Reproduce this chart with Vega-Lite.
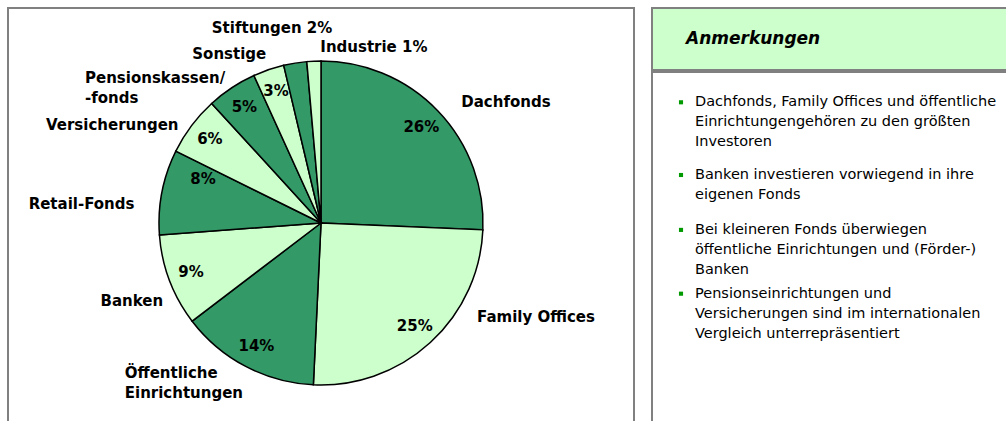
{
  "$schema": "https://vega.github.io/schema/vega-lite/v6.json",
  "padding": {"left": 7, "top": 7, "right": 0, "bottom": 0},
  "background": "white",
  "spacing": 18,
  "bounds": "flush",
  "config": {
    "view": {"stroke": "#808080", "strokeWidth": 2},
    "text": {"font": "DejaVu Sans", "fontWeight": "bold", "fontSize": 15, "color": "#000000", "baseline": "middle", "lineBreak": "\n", "lineHeight": 20, "clip": true}
  },
  "hconcat": [
    {
      "width": 626,
      "height": 430,
      "view": {"stroke": "#808080", "strokeWidth": 2, "fill": "white"},
      "data": {"values": [
        {"rank": 1, "cat": "Dachfonds", "name": "Dachfonds", "pct": "26%", "value": 25.7},
        {"rank": 2, "cat": "Family Offices", "name": "Family Offices", "pct": "25%", "value": 25.1},
        {"rank": 3, "cat": "Öffentliche Einrichtungen", "name": "Öffentliche\nEinrichtungen", "pct": "14%", "value": 13.9},
        {"rank": 4, "cat": "Banken", "name": "Banken", "pct": "9%", "value": 9.2},
        {"rank": 5, "cat": "Retail-Fonds", "name": "Retail-Fonds", "pct": "8%", "value": 8.5},
        {"rank": 6, "cat": "Versicherungen", "name": "Versicherungen", "pct": "6%", "value": 5.9},
        {"rank": 7, "cat": "Pensionskassen/-fonds", "name": "Pensionskassen/\n-fonds", "pct": "5%", "value": 5.0},
        {"rank": 8, "cat": "Sonstige", "name": "Sonstige", "pct": "3%", "value": 3.1},
        {"rank": 9, "cat": "Stiftungen", "name": "Stiftungen 2%", "pct": "", "value": 2.3},
        {"rank": 10, "cat": "Industrie", "name": "Industrie 1%", "pct": "", "value": 1.4}
      ]},
      "encoding": {
        "theta": {"field": "value", "type": "quantitative", "stack": true},
        "order": {"field": "rank", "type": "quantitative"}
      },
      "layer": [
        {
          "mark": {"type": "arc", "outerRadius": 162, "stroke": "#000000", "strokeWidth": 1.5},
          "encoding": {
            "color": {
              "field": "cat", "type": "nominal", "legend": null,
              "scale": {
                "domain": ["Dachfonds", "Family Offices", "Öffentliche Einrichtungen", "Banken", "Retail-Fonds", "Versicherungen", "Pensionskassen/-fonds", "Sonstige", "Stiftungen", "Industrie"],
                "range": ["#339966", "#CCFFCC", "#339966", "#CCFFCC", "#339966", "#CCFFCC", "#339966", "#CCFFCC", "#339966", "#CCFFCC"]
              }
            }
          }
        },
        {
          "mark": {"type": "text", "radius": 139, "align": "center", "clip": true},
          "encoding": {"text": {"condition": {"test": "datum.cat !== 'Retail-Fonds'", "field": "pct", "type": "nominal"}, "value": ""}}
        },
        {
          "mark": {"type": "text", "radius": 126, "thetaOffset": 0.164, "align": "center", "clip": true},
          "encoding": {"text": {"condition": {"test": "datum.cat === 'Retail-Fonds'", "field": "pct", "type": "nominal"}, "value": ""}}
        },
        {
          "mark": {"type": "text", "radius": 185, "thetaOffset": 0.054, "align": "left", "clip": true},
          "encoding": {"text": {"condition": {"test": "datum.cat === 'Dachfonds'", "field": "name", "type": "nominal"}, "value": ""}}
        },
        {
          "mark": {"type": "text", "radius": 182, "thetaOffset": -0.29, "align": "left", "clip": true},
          "encoding": {"text": {"condition": {"test": "datum.cat === 'Family Offices'", "field": "name", "type": "nominal"}, "value": ""}}
        },
        {
          "mark": {"type": "text", "radius": 247, "thetaOffset": 0.435, "align": "left", "clip": true},
          "encoding": {"text": {"condition": {"test": "datum.cat === 'Öffentliche Einrichtungen'", "field": "name", "type": "nominal"}, "value": ""}}
        },
        {
          "mark": {"type": "text", "radius": 176, "thetaOffset": -0.096, "align": "right", "clip": true},
          "encoding": {"text": {"condition": {"test": "datum.cat === 'Banken'", "field": "name", "type": "nominal"}, "value": ""}}
        },
        {
          "mark": {"type": "text", "radius": 187.5, "thetaOffset": -0.091, "align": "right", "clip": true},
          "encoding": {"text": {"condition": {"test": "datum.cat === 'Retail-Fonds'", "field": "name", "type": "nominal"}, "value": ""}}
        },
        {
          "mark": {"type": "text", "radius": 173, "thetaOffset": -0.042, "align": "right", "clip": true},
          "encoding": {"text": {"condition": {"test": "datum.cat === 'Versicherungen'", "field": "name", "type": "nominal"}, "value": ""}}
        },
        {
          "mark": {"type": "text", "radius": 277, "thetaOffset": -0.436, "align": "left", "clip": true},
          "encoding": {"text": {"condition": {"test": "datum.cat === 'Pensionskassen/-fonds'", "field": "name", "type": "nominal"}, "value": ""}}
        },
        {
          "mark": {"type": "text", "radius": 178, "thetaOffset": 0.017, "align": "right", "clip": true},
          "encoding": {"text": {"condition": {"test": "datum.cat === 'Sonstige'", "field": "name", "type": "nominal"}, "value": ""}}
        },
        {
          "mark": {"type": "text", "radius": 201, "thetaOffset": -0.086, "align": "center", "clip": true},
          "encoding": {"text": {"condition": {"test": "datum.cat === 'Stiftungen'", "field": "name", "type": "nominal"}, "value": ""}}
        },
        {
          "mark": {"type": "text", "radius": 176, "thetaOffset": 0.04, "align": "left", "clip": true},
          "encoding": {"text": {"condition": {"test": "datum.cat === 'Industrie'", "field": "name", "type": "nominal"}, "value": ""}}
        }
      ]
    },
    {
      "spacing": 0,
      "vconcat": [
        {
          "width": 370,
          "height": 62,
          "view": {"fill": "#CCFFCC", "stroke": "#808080", "strokeWidth": 2},
          "data": {"values": [{"t": "Anmerkungen"}]},
          "mark": {"type": "text", "align": "left", "baseline": "middle", "font": "DejaVu Sans", "fontWeight": "bold", "fontStyle": "italic", "fontSize": 17, "color": "#000000"},
          "encoding": {
            "text": {"field": "t", "type": "nominal"},
            "x": {"datum": 0.0919, "type": "quantitative", "scale": {"domain": [0, 1], "nice": false, "zero": false}, "axis": null}
          }
        },
        {
          "width": 370,
          "height": 368,
          "view": {"fill": "white", "stroke": "#808080", "strokeWidth": 2},
          "data": {"values": [
            {"item": 1, "text": "Dachfonds, Family Offices und öffentliche\nEinrichtungengehören zu den größten\nInvestoren"},
            {"item": 2, "text": "Banken investieren vorwiegend in ihre\neigenen Fonds"},
            {"item": 3, "text": "Bei kleineren Fonds überwiegen\nöffentliche Einrichtungen und (Förder-)\nBanken"},
            {"item": 4, "text": "Pensionseinrichtungen und\nVersicherungen sind im internationalen\nVergleich unterrepräsentiert"}
          ]},
          "layer": [
            {
              "transform": [{"filter": "length(split(datum.text, '\\n')) === 3"}],
              "mark": {"type": "square", "size": 17, "color": "#009900", "filled": true, "opacity": 1},
              "encoding": {
                "x": {"datum": 0.0784, "type": "quantitative", "scale": {"domain": [0, 1], "nice": false, "zero": false}, "axis": null},
                "y": {"field": "item", "type": "ordinal", "axis": null, "bandPosition": 0.3, "scale": {"type": "band", "domain": [1, 2, 3, 4], "paddingInner": 0, "paddingOuter": 0.884, "align": 0.0989}}
              }
            },
            {
              "transform": [{"filter": "length(split(datum.text, '\\n')) === 2"}],
              "mark": {"type": "square", "size": 17, "color": "#009900", "filled": true, "opacity": 1},
              "encoding": {
                "x": {"datum": 0.0784, "type": "quantitative", "scale": {"domain": [0, 1], "nice": false, "zero": false}, "axis": null},
                "y": {"field": "item", "type": "ordinal", "axis": null, "bandPosition": 0.4395, "scale": {"type": "band", "domain": [1, 2, 3, 4], "paddingInner": 0, "paddingOuter": 0.884, "align": 0.0989}}
              }
            },
            {
              "transform": [{"filter": "length(split(datum.text, '\\n')) === 3"}],
              "mark": {"type": "text", "align": "left", "baseline": "middle", "lineBreak": "\n", "lineHeight": 20, "font": "DejaVu Sans", "fontWeight": "normal", "fontSize": 14.5, "color": "#000000", "clip": false},
              "encoding": {
                "x": {"datum": 0.1162, "type": "quantitative", "scale": {"domain": [0, 1], "nice": false, "zero": false}, "axis": null},
                "y": {"field": "item", "type": "ordinal", "axis": null, "bandPosition": 0.3, "scale": {"type": "band", "domain": [1, 2, 3, 4], "paddingInner": 0, "paddingOuter": 0.884, "align": 0.0989}},
                "text": {"field": "text", "type": "nominal"}
              }
            },
            {
              "transform": [{"filter": "length(split(datum.text, '\\n')) === 2"}],
              "mark": {"type": "text", "align": "left", "baseline": "middle", "lineBreak": "\n", "lineHeight": 20, "font": "DejaVu Sans", "fontWeight": "normal", "fontSize": 14.5, "color": "#000000", "clip": false},
              "encoding": {
                "x": {"datum": 0.1162, "type": "quantitative", "scale": {"domain": [0, 1], "nice": false, "zero": false}, "axis": null},
                "y": {"field": "item", "type": "ordinal", "axis": null, "bandPosition": 0.4395, "scale": {"type": "band", "domain": [1, 2, 3, 4], "paddingInner": 0, "paddingOuter": 0.884, "align": 0.0989}},
                "text": {"field": "text", "type": "nominal"}
              }
            }
          ]
        }
      ]
    }
  ]
}
